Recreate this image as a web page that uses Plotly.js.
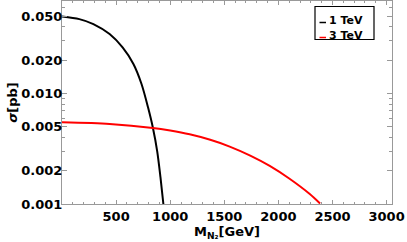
<!DOCTYPE html>
<html><head><meta charset="utf-8">
<script src="https://cdn.plot.ly/plotly-3.0.1.min.js"></script>
<style>html,body{margin:0;padding:0;background:#fff}#chart{width:407px;height:242px}</style>
</head><body><div id="chart"></div>
<script>
// Data
const seriesNames = ['1 TeV', '3 TeV'];
const seriesColors = ['#000000', '#ff0000'];
const mass1TeV = [0, 160, 290, 440, 560, 660, 735, 795, 840, 880, 910, 937];
const sigma1TeV = [0.0498, 0.0471, 0.0425, 0.0345, 0.0261, 0.0185, 0.0122, 0.0075, 0.0049, 0.0030, 0.00175, 0.001];
const mass3TeV = [0, 440, 840, 1000, 1180, 1370, 1550, 1740, 1920, 2100, 2290, 2385];
const sigma3TeV = [0.00548, 0.0053, 0.00488, 0.00462, 0.00427, 0.00381, 0.00331, 0.00274, 0.00221, 0.00170, 0.00123, 0.00101];
const yTickVals = [0.001, 0.002, 0.005, 0.01, 0.02, 0.05];
const yTickText = ['0.001', '0.002', '0.005', '0.010', '0.020', '0.050'];
const yMinorVals = [0.003, 0.004, 0.006, 0.007, 0.008, 0.009, 0.03, 0.04, 0.06];
const xTickVals = [500, 1000, 1500, 2000, 2500, 3000];
const xTickText = ['500', '1000', '1500', '2000', '2500', '3000'];

const F = 'DejaVu Sans, Liberation Sans, sans-serif';
const traces = [
  {x: mass1TeV, y: sigma1TeV, name: seriesNames[0], mode: 'lines', line: {color: seriesColors[0], width: 2, shape: 'spline', smoothing: 0.8}, showlegend: false},
  {x: mass3TeV, y: sigma3TeV, name: seriesNames[1], mode: 'lines', line: {color: seriesColors[1], width: 2, shape: 'spline', smoothing: 0.8}, showlegend: false}
];

// custom compact legend (pixel -> paper helpers)
const L = 62, R = 392, T = 1, B = 204;
const px = v => (v - L) / (R - L);
const py = v => (B - v) / (B - T);
const legendRows = [20, 35];
const shapes = [
  {type: 'rect', xref: 'paper', yref: 'paper', x0: px(315), x1: px(374), y0: py(39.5), y1: py(6.5), line: {color: '#000', width: 1.2}, fillcolor: '#fff', layer: 'above'}
];
const annotations = [];
seriesNames.forEach((n, i) => {
  shapes.push({type: 'line', xref: 'paper', yref: 'paper', x0: px(319.5), x1: px(326), y0: py(legendRows[i] + 2.5), y1: py(legendRows[i] + 2.5), line: {color: seriesColors[i], width: 1.5}, layer: 'above'});
  annotations.push({xref: 'paper', yref: 'paper', x: px(326.5), y: py(legendRows[i]), xanchor: 'left', yanchor: 'middle', showarrow: false, text: n, font: {family: F, size: 11, weight: 'bold', color: '#000'}});
});

const axisCommon = {
  showline: true, linecolor: '#999', linewidth: 1, mirror: 'allticks',
  ticks: 'inside', tickcolor: '#999', tickwidth: 1,
  showgrid: false, zeroline: false,
  tickfont: {family: F, size: 13, weight: 'bold', color: '#000'}
};

const layout = {
  width: 407, height: 242,
  margin: {l: L, r: 407 - R, t: T, b: 242 - B},
  paper_bgcolor: '#fff', plot_bgcolor: '#fff',
  showlegend: false,
  xaxis: Object.assign({}, axisCommon, {
    range: [0, 3050], tickmode: 'array', tickvals: xTickVals, ticktext: xTickText, ticklen: 4,
    minor: {ticks: 'inside', tickmode: 'linear', tick0: 0, dtick: 100, ticklen: 2, tickcolor: '#999', showgrid: false},
    title: {text: 'M<sub>N₂</sub>[GeV]', font: {family: F, size: 13, weight: 'bold', color: '#000'}, standoff: 4}
  }),
  yaxis: Object.assign({}, axisCommon, {
    type: 'log', range: [-3, -1.163], tickmode: 'array', tickvals: yTickVals, ticktext: yTickText, ticklen: 5,
    ticklabelstandoff: -4,
    minor: {ticks: 'inside', tickmode: 'array', tickvals: yMinorVals, ticklen: 3, tickcolor: '#999', showgrid: false},
    title: {text: '<i>σ</i>[pb]', font: {family: F, size: 13, weight: 'bold', color: '#000'}, standoff: 0}
  }),
  shapes: shapes,
  annotations: annotations
};

Plotly.newPlot('chart', traces, layout, {displayModeBar: false, staticPlot: true});
</script>
</body></html>
